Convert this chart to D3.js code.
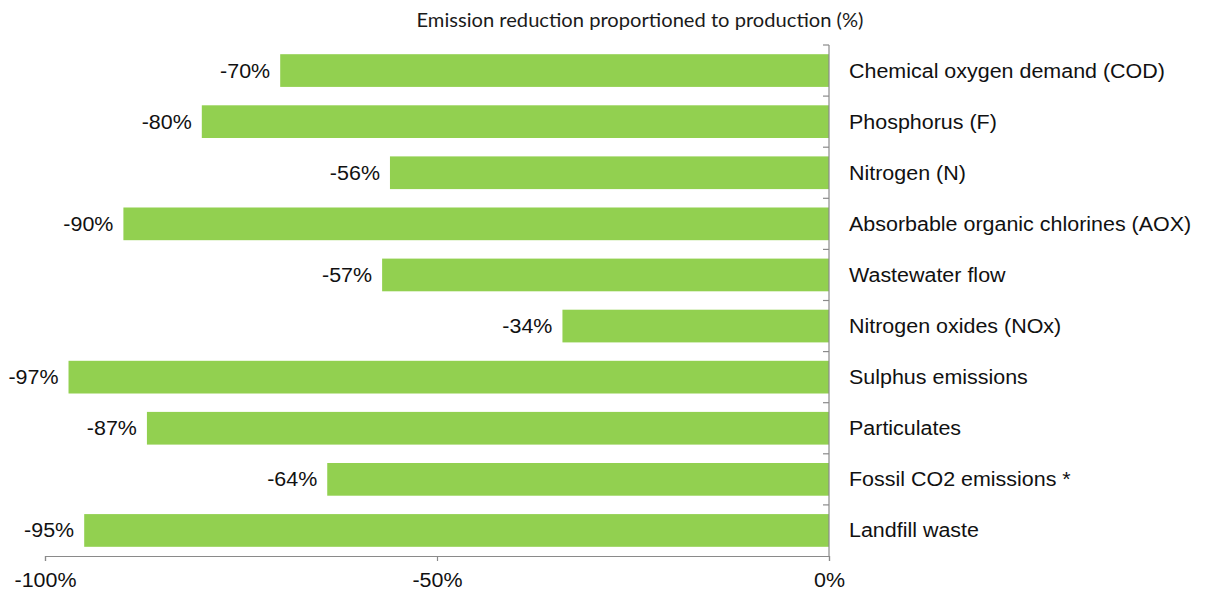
<!DOCTYPE html>
<html>
<head>
<meta charset="utf-8">
<script src="https://cdn.jsdelivr.net/npm/d3@7"></script>
<style>
  html, body { margin: 0; padding: 0; background: #fff; }
  svg { display: block; }
</style>
</head>
<body>
<svg id="chart" width="1208" height="594"></svg>
<script>
// Emission categories, top to bottom
const categories = [
  "Chemical oxygen demand (COD)",
  "Phosphorus (F)",
  "Nitrogen (N)",
  "Absorbable organic chlorines (AOX)",
  "Wastewater flow",
  "Nitrogen oxides (NOx)",
  "Sulphus emissions",
  "Particulates",
  "Fossil CO2 emissions *",
  "Landfill waste"
];
// Reduction relative to production, percent
const reductions = [-70, -80, -56, -90, -57, -34, -97, -87, -64, -95];
const xTicks = [-100, -50, 0];
const title = "Emission reduction proportioned to production (%)";

const svg = d3.select("#chart");
const plotLeft = 45, plotRight = 829, plotTop = 45, plotBottom = 556;

const x = d3.scaleLinear().domain([-100, 0]).range([plotLeft, plotRight]);
const y = d3.scaleBand().domain(categories).range([plotTop, plotBottom]).paddingInner(0.36).paddingOuter(0.18);

const axisColor = "#8a8a8a";
const labelFont = "'Liberation Sans', Arial, sans-serif";
const labelSize = 19.5;
const widen = 1.1; // labels are set slightly wide

// Stretch a text selection horizontally by a factor, keeping its anchor
function stretch(sel, k) {
  sel.each(function () {
    const w = this.getComputedTextLength();
    d3.select(this).attr("textLength", w * k).attr("lengthAdjust", "spacingAndGlyphs");
  });
}

// Title
svg.append("text")
  .attr("x", 640).attr("y", 27)
  .attr("text-anchor", "middle")
  .attr("font-family", "Lato, 'Open Sans', sans-serif")
  .attr("font-size", 19)
  .attr("fill", "#1a1a1a")
  .text(title)
  .attr("textLength", 447)
  .attr("lengthAdjust", "spacingAndGlyphs");

const data = categories.map((c, i) => ({ cat: c, v: reductions[i] }));

// Bars
svg.append("g").selectAll("rect").data(data).join("rect")
  .attr("x", d => x(d.v))
  .attr("y", d => y(d.cat))
  .attr("width", d => x(0) - x(d.v))
  .attr("height", y.bandwidth())
  .attr("fill", "#92D050");

// Value labels
svg.append("g").selectAll("text").data(data).join("text")
  .attr("x", d => x(d.v) - 10)
  .attr("y", d => y(d.cat) + y.bandwidth() / 2)
  .attr("dy", "0.36em")
  .attr("text-anchor", "end")
  .attr("font-family", labelFont)
  .attr("font-size", labelSize)
  .attr("fill", "#111")
  .text(d => d.v + "%")
  .call(stretch, widen);

// Category labels to the right of the zero line
svg.append("g").selectAll("text").data(data).join("text")
  .attr("x", plotRight + 20)
  .attr("y", d => y(d.cat) + y.bandwidth() / 2)
  .attr("dy", "0.36em")
  .attr("font-family", labelFont)
  .attr("font-size", labelSize)
  .attr("fill", "#111")
  .text(d => d.cat)
  .call(stretch, widen);

// Vertical axis at zero with ticks on the category boundaries
const step = (plotBottom - plotTop) / categories.length;
const vAxis = svg.append("g");
vAxis.append("line")
  .attr("x1", x(0)).attr("x2", x(0))
  .attr("y1", plotTop).attr("y2", plotBottom)
  .attr("stroke", axisColor).attr("stroke-width", 1.2);
vAxis.selectAll("line.tick").data(d3.range(categories.length)).join("line")
  .attr("class", "tick")
  .attr("x1", x(0) - 6).attr("x2", x(0))
  .attr("y1", i => plotTop + i * step).attr("y2", i => plotTop + i * step)
  .attr("stroke", axisColor).attr("stroke-width", 1.2);

// Horizontal value axis
const xAxis = d3.axisBottom(x).tickValues(xTicks).tickSize(5).tickFormat(d => d + "%");
const gx = svg.append("g").attr("transform", `translate(0,${plotBottom})`).call(xAxis);
gx.select(".domain").attr("stroke", axisColor).attr("stroke-width", 1.2);
gx.selectAll(".tick line").attr("stroke", axisColor).attr("stroke-width", 1.2);
gx.selectAll(".tick text")
  .attr("y", 17)
  .attr("font-family", labelFont)
  .attr("font-size", labelSize)
  .attr("fill", "#111")
  .call(stretch, widen);
</script>
</body>
</html>
